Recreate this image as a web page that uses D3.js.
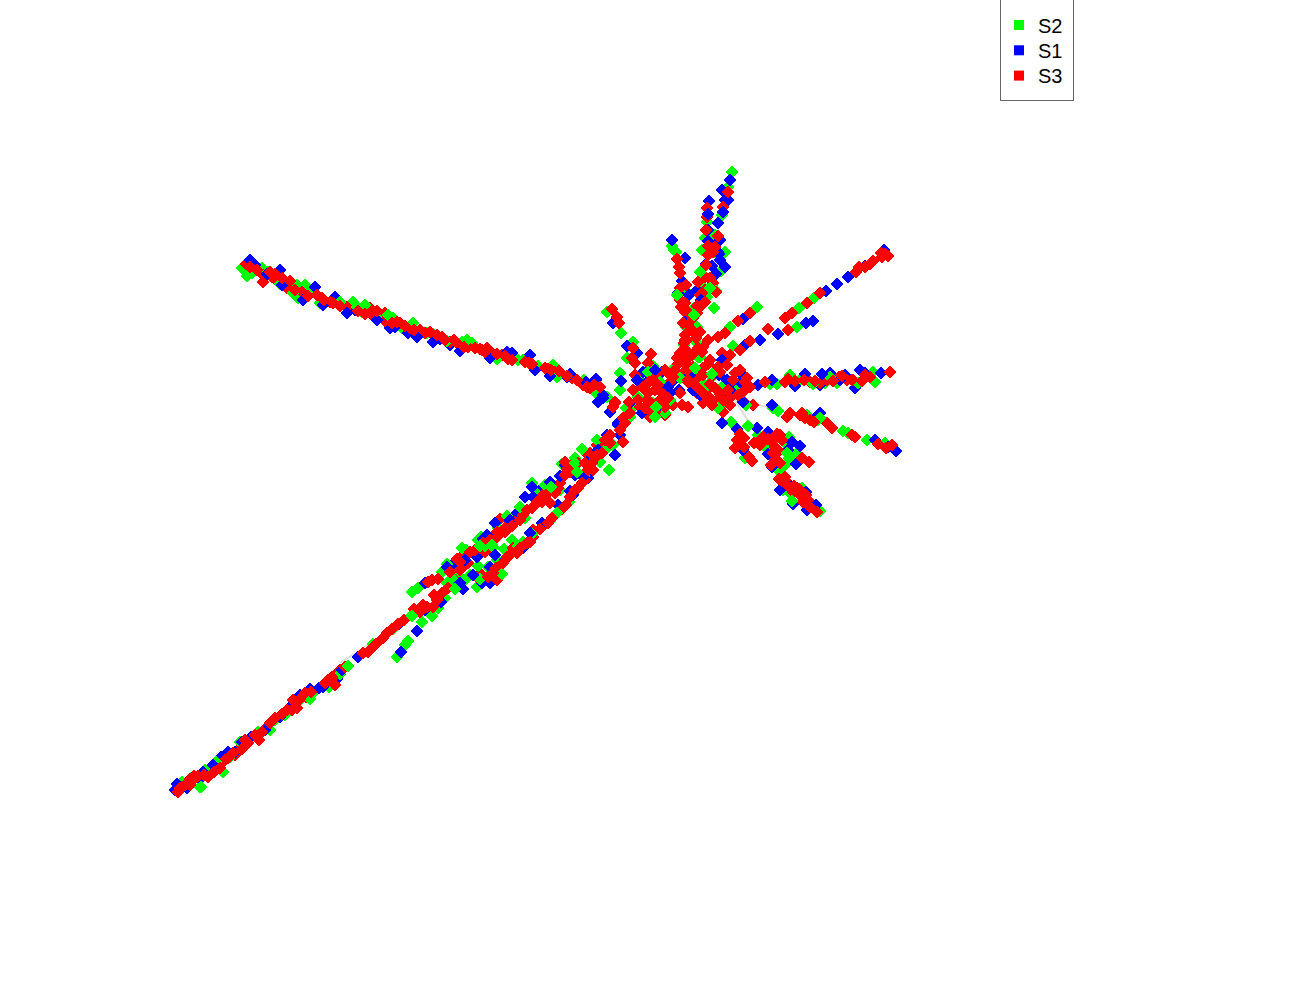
<!DOCTYPE html>
<html><head><meta charset="utf-8">
<script src="https://cdn.jsdelivr.net/npm/d3@7"></script>
<style>html,body{margin:0;background:#fff}svg{display:block}</style></head>
<body><svg id="c" width="1300" height="1000"></svg>
<script>
const seriesNames=["S2","S1","S3"];
const seriesColors=["#00ff00","#0000ff","#ff0000"];
const s2=[[23.2,32.8],[22.8,31.3],[22.2,28.5],[20.7,27.8],[21.5,26.5],[20.5,26.2],[22.1,22.9],[20.3,21.3],[21.2,21.5],[20.7,20.3],[19.7,17.3],[17.2,25.4],[17.4,25],[18.5,21],[10.7,18.8],[12.1,16.7],[13.3,15.8],[12.7,14.2],[15.3,13.4],[12,12.7],[12,11],[31.4,20.2],[29.9,19.2],[29.7,17.3],[25.7,19.3],[23,17.3],[23.3,15.4],[20,14.3],[37.3,12.8],[37.5,11.8],[33.7,11.7],[32.5,11.7],[30.1,12.1],[27.7,11.6],[27,11.6],[27.3,9.2],[27.8,8.9],[30.7,8.5],[31.8,8],[34.3,6.9],[34.8,6.7],[36.7,6],[38.5,5.7],[23.1,7.8],[24.8,7.4],[24.5,4.2],[25.8,6.5],[27.9,6.3],[28.9,6.3],[26.6,5.2],[28.7,4.7],[28.9,4.2],[28,2.8],[28.3,1],[29.2,-0.1],[32,-1.1],[-25.8,23.2],[-24.8,22.7],[-23.8,23.2],[-20.3,21.5],[-20.2,20.2],[-19,20.7],[-19.5,21.5],[-14.7,19.8],[-13.8,18.8],[-12.2,18.5],[-10.7,18.2],[-9.8,17.2],[-7.3,16.7],[-6.7,16.6],[-3.8,15.8],[-2.8,15.7],[1.8,14],[3.8,13.4],[5.3,13.5],[7.7,12],[9.5,10.8],[10.7,10.3],[12.6,9.2],[13.5,9.5],[13,8.3],[11.3,5.5],[10.7,5.2],[10,3.8],[6.9,-0.2],[5,-2.1],[2.3,-4.2],[1.2,-4],[0.4,-4.9],[-0.3,-6],[-1.2,-6.7],[-2.3,-8.7],[6.2,3.6],[7.5,4.2],[7.8,2.7],[5.2,1.3],[3.7,0.8],[2.5,-1.8],[-2.2,-4],[-0.7,-4.7],[-3.4,-5],[-2.2,-6.6],[-5.8,-7.2],[-8.2,-8.8],[-8.8,-9.2],[-4.2,-7.5],[-3.5,-8],[-4.5,-8.8],[-5.3,-8.3],[-5.5,-9.8],[-6.8,-11.6],[-6.2,-10.8],[-8.8,-11.5],[-10.7,-12.9],[-7.8,-12.2],[-9.2,-14.1],[-9.5,-14.5],[-10.3,-15.7],[-12.7,-14.4],[-15.2,-16.6],[-18.6,-19.2],[-17.1,-18.7],[-20.2,-20.2],[-21.5,-21.5],[-22.5,-22],[-24.2,-23.2],[-27.7,-27.2],[-29,-27.2],[-29.5,-27],[-30,-28.7],[-31.8,-28.2],[13.8,10.3],[15.5,12.3],[15.3,9.7],[15.5,8.3],[19.8,14.3],[21.2,12.3],[20.3,11.7],[22.2,11.3],[22.5,9.7],[14,12],[17.5,13.3],[18.4,15.5],[21.9,24.4],[20.2,25],[19.8,19.5],[21.4,19.2],[22.5,24.8],[28.7,5.5],[29.6,4.6],[28.5,3.5],[27.2,5.8],[30.2,1.2],[29,0.7],[17.6,24.8]];
const s2b=[[-25.3,22.4],[-23.2,22.8],[-22,21.6],[-20.7,20.7],[-18,19.7],[-16,19.8],[-13.5,19.5],[-11.2,18.5],[-8.7,17.7],[-5.3,15.9],[-3.3,16],[-0.3,14.1],[2.3,14],[5.7,12.3],[8.4,12],[-14.3,19.3],[9.7,6],[8.2,5.1],[7.5,3.7],[6,1],[4.5,1.5],[3.2,1.7],[2,-0.7],[0.7,-1.6],[-0.2,-2.8],[-1.9,-3.7],[-3.8,-4.8],[-5.3,-6.4],[-4.8,-7.8],[-3,-7.5],[-1.5,-4.6],[1.8,-4.6],[3.2,-3.4],[5.7,-1.3],[8.4,2.4],[-2,-7.9],[0.2,-7.4],[-16,-17.4],[-19,-19.9],[-23,-23],[-26,-24.2],[-27,-25.7],[-28.4,-26.2],[-30.9,-27.8],[14.8,12.8],[16,11.8],[17,10],[18,12.2],[19.2,12.8],[20.8,11.5],[21.8,9.2],[23.6,10.9],[24.6,9.5],[16.5,8.7],[19.6,15.8],[18.6,17.3],[19.4,19.2],[20,22.8],[21.6,20.9],[35.8,11.7],[33,12.3],[31.3,11.6],[29,12.5],[32,8.2]];
const s1=[[23,32],[22.8,30],[22.5,30],[21.8,27.7],[20.8,25.9],[22.5,23.3],[21.6,22.6],[20.6,23.6],[20.8,27],[22,26],[17.2,26],[18,22.7],[18.2,21.9],[18.9,20.5],[11.3,17.7],[12.7,15.4],[13.7,14.7],[14.7,12.8],[12.1,11.9],[9.6,12.1],[10.3,10.2],[38.4,25],[34.8,22.3],[33.7,21.6],[32.6,20.9],[36.5,23.4],[27.8,16.6],[30.6,17.7],[31.3,17.9],[24.3,18.1],[26,16],[24.5,15.5],[18.8,14.5],[38.1,12.7],[36.5,12.7],[35.5,11.2],[34.5,12.5],[33,12.7],[32,11.5],[27.2,12],[25.8,11.5],[24.3,12.5],[23.7,11.3],[22.7,12],[22.7,10],[27.2,9.5],[31.5,8.2],[32,8.7],[37.5,6],[39.6,4.9],[38.8,5.3],[23.7,7.1],[24.3,5],[25.7,7.2],[26.8,6.8],[29.2,5.8],[30,5.4],[26.8,4.6],[29.6,3.6],[29.7,1.2],[29,1.5],[30.7,-1],[31.6,-0.5],[-24.5,23.5],[-22,23],[-18.5,21.3],[-16.5,20.3],[-16.3,19.7],[-14.5,19],[-11,17.2],[-9.2,16.7],[-6.7,15.8],[-5,15.5],[1.2,14.7],[3,14.5],[6,12.8],[6.7,12.3],[9.6,12],[10.3,10.5],[9.8,9.8],[11,8.8],[13,9.7],[11.8,7.5],[11.8,7.7],[12,6.5],[11.5,4.5],[8.8,2.2],[7.3,0.5],[5.8,-0.5],[2.3,-4.8],[0.5,-6],[-1,-6.7],[-1.8,-8.3],[-1,-8.3],[6.5,3.5],[4.3,1.3],[3.3,0.3],[1.5,-1.5],[0.7,-1.8],[-1.3,-3.5],[-2.3,-5.7],[-3.2,-5.3],[-4.8,-6.5],[-3.7,-8.9],[-7.5,-8.3],[-5.9,-10.2],[-7.5,-11],[-8.2,-11],[-10.1,-12.4],[-8.3,-13.1],[-9.9,-15.2],[-14.2,-15.7],[-18.1,-18.8],[-16.3,-17.9],[-20,-19.5],[-20.8,-20.5],[-24.9,-23.7],[-27.2,-25.2],[-27.9,-25.7],[-29.7,-27.2],[-30,-27.9],[-32.5,-29],[-32.3,-28.4],[14.7,11.8],[16.2,12.8],[15.8,9.2],[17.2,11.8],[17.9,11],[18.8,13.3],[19.5,13.2],[21.7,13],[24,11.8],[22.2,7.7],[14.3,12.8],[18.8,14.7],[22.2,31],[21.9,24.6],[20.9,29.9],[21.8,24.8],[19.7,21],[18.5,24.2],[28.8,5],[29.3,-0.4],[28,1],[27.2,3.3],[30.6,0.8],[17.8,20.7]];
const s1b=[[-25,24],[-23.3,22.6],[-21.8,21.5],[-19.7,20],[-17.7,19.5],[-15.3,18.7],[-12.3,18],[-10.5,17.3],[-8.3,16.3],[-6,16.1],[-4,14.9],[-1,14.2],[0.7,14.8],[3.5,13],[5,12.4],[7,12.6],[8.6,11.8],[10.7,6.5],[9.8,5],[8.7,3.8],[7.5,2.5],[6,2.4],[5,1.8],[3.2,1.3],[2.5,0.3],[1,-2],[-0.5,-2.3],[-1.7,-3.9],[-3.5,-6],[-5.3,-6.7],[-4,-8.3],[-2.7,-7.5],[8.3,2.3],[7,0.9],[4.2,-2.3],[3,-3.3],[-0.5,-5.5],[-15.8,-17],[-17.7,-18.7],[-19,-18.9],[-22,-21.7],[-23.5,-23],[-25.8,-24.2],[-26.5,-25.2],[-28.7,-26.5],[-31.3,-28.8],[-32.2,-28.6],[13.7,12],[15.5,13],[17,10.7],[19.3,11],[19,12.5],[20,10.5],[21.9,12.5],[23,11],[24.3,9.8],[14.2,8.7],[16.8,11.3],[22.2,14],[20.1,20],[18.7,18],[20.8,28.6],[22.3,28.8],[22,24],[21.2,23.4],[34,12],[30.5,12.6],[29.5,11.4],[36,13],[32.2,12.6]];
const s3=[[22.8,30.8],[22.3,29.3],[20.7,29.2],[20.7,28.3],[20.6,27],[21.8,26.4],[21.5,25.3],[20.8,24.5],[20.5,22.3],[21.3,21.7],[20,20.5],[19.7,18.7],[19,18],[19.2,17],[18.5,16],[18.3,15],[18.6,14],[17.7,24.1],[18,22.7],[18,21.2],[18,20],[18.5,19.7],[18.5,18.8],[11.2,19.1],[11.7,18.3],[11.9,17.7],[13.3,15.2],[13.2,14.2],[13.5,13.7],[15.1,14.6],[14.8,13.7],[13.5,12.5],[38.8,24.4],[38.2,24.3],[37.3,23.9],[36.5,23.3],[35.9,23.3],[35.6,22.8],[32,20.7],[30.7,19.7],[29.2,18.7],[28.5,18.2],[26.8,17.1],[28.8,17],[25,18.7],[23.8,17.9],[22.5,16.7],[21.8,16.3],[20.8,16],[20.3,15.3],[25,15.9],[24,15],[23,14.5],[22.2,14.7],[21,14],[39,12.8],[37,12.3],[35.3,12],[34.7,12],[33.9,12.3],[32.7,12],[32,11.7],[31,11.8],[29,12],[28.5,11.8],[26.5,11.8],[25,11.3],[24.5,11.8],[23.3,12],[21.7,11],[20.7,10],[22.3,10],[25.3,9.5],[24.5,9.7],[18.8,9.3],[18.2,9.5],[17.3,9.5],[29,8.7],[30,8.5],[31,8],[32.7,7.7],[33.2,7.2],[35.5,6.3],[37.8,5.6],[39.2,5.5],[38.6,5.2],[24.1,6],[23.7,6],[24.9,4.3],[25.8,5.8],[26.8,6.1],[28,6.5],[27.5,5.3],[27.5,4],[27.3,4.7],[30.2,4.2],[30.9,3.8],[28.5,2],[28.7,1.5],[29.3,0.8],[30,0.5],[30.3,-0.2],[31.7,-1.2],[31,-0.7],[-25.4,23.6],[-23.7,22.5],[-22.8,22.3],[-22.2,21.8],[-23.7,21.8],[-21.3,21.2],[-19.8,20.8],[-17.8,20.2],[-17,19.8],[-15.3,19.3],[-13,19.2],[-12.8,18.5],[-11.5,18.7],[-11.5,17.9],[-10,17.7],[-9,17.2],[-8,17],[-7.5,16.7],[-5.8,16.3],[-5,15.8],[-4.3,15.7],[-3.2,15.3],[-1.8,15],[-1.3,15.2],[-0.8,14.7],[0.2,14.5],[0.8,14.1],[2.9,13.7],[4.8,13.1],[5.5,12.8],[7.2,12.2],[8.3,11.5],[9,11.2],[10,11.3],[11.5,9.8],[11.3,9.3],[12.3,8.2],[12.5,7.7],[13,8.7],[12,7],[11,5.7],[9.7,5.5],[8.8,4.5],[9.3,3],[8.5,2],[7.8,1.2],[6.2,-0.9],[5.7,-1.3],[4.3,-2.6],[3.3,-3],[3.3,-3.7],[2.7,-4.3],[1.3,-4.8],[1,-5.5],[-0.4,-6.8],[-0.3,-8],[-1.8,-7.5],[-2.3,-7.7],[6.5,3.8],[7.2,3.5],[6.3,2.3],[6,1.7],[7.8,3.7],[9,4.7],[4.3,0.5],[5,-0.3],[3.7,-0.2],[3.2,-0.8],[2.3,-1.5],[1.5,-2.2],[0,-1.9],[0.5,-3.2],[-0.3,-3.7],[-2,-4.8],[-1.5,-5.2],[-3.7,-5.5],[-3.2,-6.3],[-3.7,-6.7],[-6.8,-8],[-4.5,-8],[-5.2,-8.8],[-6.6,-9.5],[-7.7,-10.5],[-6.7,-10.7],[-9.6,-12],[-11.7,-13.8],[-12.8,-14.8],[-13.7,-15.3],[-16,-17],[-16.5,-17.5],[-17.2,-18],[-16.5,-18.5],[-19.4,-19.7],[-20.3,-20.8],[-20.8,-21],[-22,-21.7],[-23.3,-22.7],[-24.1,-24],[-25.2,-24.3],[-26,-24.8],[-26.5,-25.5],[-27.5,-26],[-28.3,-26.5],[-29.2,-27.7],[-30.7,-28],[-31.2,-28.3],[-31.8,-28.7],[-32.2,-29.2],[17.5,13],[18.3,12.7],[16.8,12.7],[19.3,13.3],[18.8,11.8],[14.2,11.3],[14.8,10.7],[16.2,11.3],[15.5,11],[14,9.3],[14.7,10],[16,10],[20.7,11],[21.7,10],[20.3,9.7],[16.5,8.5],[15,8.3],[15,9.8],[22.3,8.8],[23,9.5],[12.3,5.8],[11.5,9.7],[17,11.8],[19.5,12],[18,10.7],[19.7,10.7],[21.3,12.5],[20.3,13.2],[20,12.7],[18.5,13.7],[17.7,14.2],[16.5,13],[15.8,12.7]];
const s3b=[[-25,23.3],[-24.3,23],[-23,22.8],[-22.5,22.6],[-21.8,22.2],[-21,21.9],[-20.5,21],[-19.2,20.4],[-18.3,20.5],[-17.6,20],[-16.7,19.7],[-16,19.4],[-14.2,18.9],[-13.5,18.6],[-12.3,18.9],[-10.8,17.7],[-10.3,17.8],[-9.5,17.4],[-8.6,17],[-7,16.8],[-6.3,16.5],[-5.5,16],[-4.6,16],[-3.6,15.3],[-2.5,15.2],[-2,15.1],[-1.5,14.8],[-0.3,14.6],[0.5,14.4],[1.2,14],[2.5,13.8],[3.2,13.6],[4.5,13.2],[5.1,13],[5.9,12.9],[6.7,12.4],[7.7,12],[8.7,11.3],[9.4,11.5],[10.2,4.7],[9.5,4.2],[8.5,3.7],[7,2.8],[6.7,3.1],[6.5,2.5],[5.8,1.2],[5.5,0.7],[4.7,0.6],[4.2,-0.2],[3.5,-0.5],[2.7,-1],[2,-2],[1.2,-2.6],[0.5,-2.8],[-0.3,-3.2],[-1,-4],[-1.7,-4.3],[-2.5,-5],[-3,-5.2],[-4,-6.2],[-4.3,-5.9],[-4,-7],[-5,-7.2],[-6.2,-7.9],[-7.2,-8.2],[11,6.5],[10.5,6],[9.7,4.5],[9.2,3.7],[8.8,3],[8.2,1.7],[7.5,1],[7,0.3],[6.6,-0.5],[5.2,-1.8],[4.8,-2.3],[4,-2.9],[3,-4.2],[2,-4.8],[1.7,-5.3],[0.7,-5.7],[0.3,-6.3],[-0.7,-7.3],[-1.2,-7.7],[-7.3,-10.7],[-8,-11.2],[-8.6,-10.9],[-6.3,-10],[-5.8,-9.3],[-10.2,-12.4],[-10.8,-12.9],[-11.3,-13.3],[-13.2,-15.2],[-12.4,-14.4],[-15.5,-16.7],[-16.8,-17.7],[-17.5,-18.3],[-18.9,-19.2],[-19.5,-19.3],[-20,-19.9],[-20.7,-20],[-21.3,-21],[-21.8,-21.4],[-22.5,-21.8],[-23,-22.3],[-23.8,-23.2],[-24.5,-23.5],[-25.5,-24],[-25.8,-24.9],[-26.7,-25.3],[-27.2,-25.8],[-28,-26.8],[-28.6,-27.2],[-29.6,-27.5],[-30.2,-27.6],[-31,-28.5],[-31.5,-28.5],[-32,-28.8],[-31,-27.9],[-30.6,-27.6],[14.3,11.2],[14.9,11.8],[15.3,12],[15.8,11.5],[16.3,10.6],[16.8,10.2],[14.5,9.2],[14.9,9],[15.5,8.8],[13.3,11],[13.8,10],[12.9,9.8],[16.5,9.3],[17.3,12.3],[17.8,13.6],[18.7,13],[18,14.7],[18.4,15.7],[18.7,14.9],[19.2,14.5],[19.8,15.2],[20.2,14.8],[18.8,12],[19.5,11.5],[20,11],[21,11.6],[21.5,11.2],[20.5,10.5],[22,10.6],[22.8,11],[23,10.2],[23.8,10.5],[24.3,10.8],[21,10.2],[21.2,9.5],[20.3,12.5],[22,12.8],[22.7,13.5],[23.5,12.7],[24,13],[24.7,12.2],[21.8,13.3],[20.8,13.6],[18.5,16.5],[18.8,17.5],[19.3,18.2],[19.7,19.4],[18.3,17.7],[18.7,18.9],[20,19.3],[20.5,21],[18.1,19.3],[18.7,16],[19.6,16.2],[20,16.8],[38.5,24.6],[37,23.6],[27.9,4.9],[27.5,4.5],[28.5,2.3],[30.6,0.5],[28.2,6],[27,6],[25.2,3.9],[35.2,12],[34.2,12.4],[33.3,11.9],[31.5,11.9],[30.4,12],[29.5,11.9],[28.8,12.1],[36.5,12.5],[36.2,11.9],[28.7,8.3],[30.5,8.2],[30.2,8.7],[31.4,7.8],[35.2,6.5],[25.4,5.7],[26,5.5],[26.3,6.3],[23.5,5.2],[24.4,6.2],[20.8,25.4],[21.3,24.8],[20.6,23.5],[21,22.2],[21.6,20.8],[19.8,21.8],[20.5,19.8],[17.9,23.3],[18.6,21.5],[38.1,24.7],[24,6.6],[24.4,5.3],[26.1,5.6],[27.2,5.9],[27.7,6.6],[27.1,3.5],[28,3.7],[28.2,1.9],[29.4,1.4],[29.9,1.1],[30.8,0],[27.9,2.1]];
const s2Top=[[15.5,8.3],[21.2,12.6],[29.2,-0.1],[34.3,6.9],[28.7,4.7],[24.8,7.4],[17.7,20.5],[19.4,18.5],[21,21.2],[19.5,13.2],[15.6,9.3],[10.9,3],[7.7,2.8],[5.1,1.3],[-2,-4.6],[-0.8,-4.5],[-4.5,-8.9],[-8.8,-11.6],[-29.9,-28.7],[-15.2,-16.6]];
const edges=[[[18.5,13],[23.5,10],[28,9]],[[23.5,10],[26,6]],[[-16,-16.3],[-12,-13.7]],[[-2,-3.8],[0.5,-3]]];
const layers=[[s2,0],[s1,1],[s3,2],[s2b,0],[s1b,1],[s3b,2],[s2Top,0]];

const x=d3.scaleLinear().domain([-50,80]).range([0,1300]);
const y=d3.scaleLinear().domain([-50,50]).range([1000,0]);
const svg=d3.select("#c");
const line=d3.line().curve(d3.curveBasis).x(d=>x(d[0])).y(d=>y(d[1]));
svg.append("g").selectAll("path").data(edges).join("path")
  .attr("d",line).attr("fill","none").attr("stroke","#dcdcdc").attr("stroke-width",2);
const marker=d3.symbol().type(d3.symbolSquare).size(82)();
layers.forEach(([pts,i])=>{
  svg.append("g").attr("shape-rendering","crispEdges").selectAll("path").data(pts).join("path")
    .attr("d",marker).attr("fill",seriesColors[i])
    .attr("transform",d=>`translate(${x(d[0])},${y(d[1])}) rotate(45)`);
});
const lg=svg.append("g");
lg.append("rect").attr("x",1000.5).attr("y",-1).attr("width",73).attr("height",101.5)
  .attr("fill","#fff").attr("stroke","#666").attr("stroke-width",1);
seriesNames.forEach((n,i)=>{
  const cy=25+i*25.3;
  lg.append("rect").attr("x",1014).attr("y",cy-5).attr("width",10).attr("height",10).attr("fill",seriesColors[i]);
  lg.append("text").attr("x",1038).attr("y",cy+7.5).attr("font-family","Liberation Sans, Arial, sans-serif")
    .attr("font-size",20).attr("fill","#000").text(n);
});
</script></body></html>
